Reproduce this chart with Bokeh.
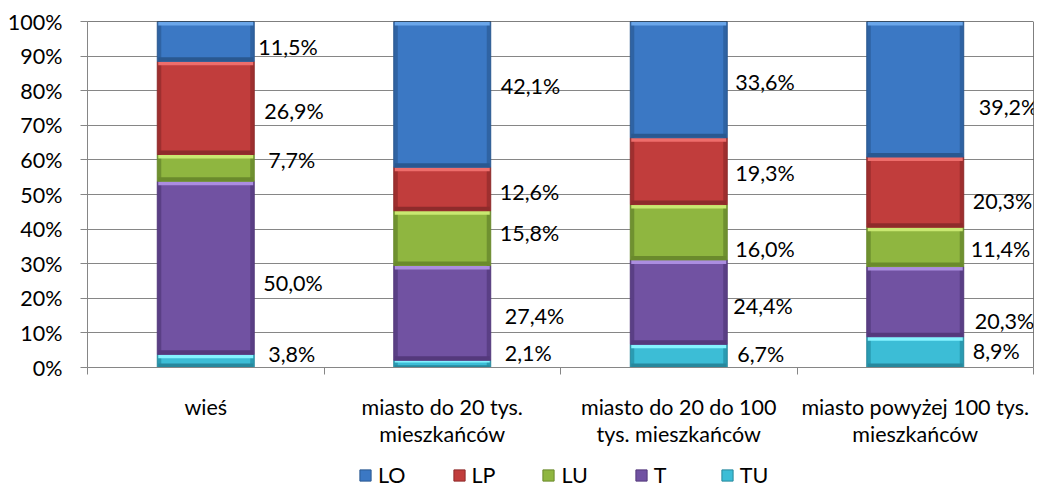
from bokeh.plotting import figure
from bokeh.layouts import column
from bokeh.models import ColumnDataSource, FixedTicker, Span, Legend, LegendItem
from bokeh.core.properties import value
from bokeh.embed import file_html
from bokeh.resources import INLINE

# ---- data ----
categories = ["wieś", "miasto do 20 tys.\nmieszkańców",
              "miasto do 20 do 100\ntys. mieszkańców",
              "miasto powyżej 100 tys.\nmieszkańców"]
series_names = ["TU", "T", "LU", "LP", "LO"]          # bottom -> top
TU = [3.8, 2.1, 6.7, 8.9]
T = [50.0, 27.4, 24.4, 20.3]
LU = [7.7, 15.8, 16.0, 11.4]
LP = [26.9, 12.6, 19.3, 20.3]
LO = [11.5, 42.1, 33.6, 39.2]
y_ticks = [0, 10, 20, 30, 40, 50, 60, 70, 80, 90, 100]
legend_order = ["LO", "LP", "LU", "T", "TU"]

# label nudges (pixels), per series per category
label_dx = {"TU": [14, 14, 10, 9], "T": [9, 14, 6, 11], "LU": [14, 9, 8, 7],
            "LP": [10, 9, 8, 9], "LO": [4, 10, 8, 15]}
label_dy = {"TU": [-7, -11, -2, -1], "T": [15, 3, 4, 19], "LU": [-8, -5, 17, 2],
            "LP": [3, 3.5, 1.5, 9], "LO": [6, -8, 2, 18]}

# ---- styles ----
FONT = "Lato"
FS = "21.5px"
colors = {  # side/edge, main, top highlight, bottom shade
    "LO": ("#2f63a3", "#3b78c4", "#6aa6ea", "#2a5890"),
    "LP": ("#9e2f2f", "#c13d3c", "#ee6d6b", "#8e2b2b"),
    "LU": ("#6f9130", "#8fb640", "#c9e871", "#6a8a2c"),
    "T": ("#5a3f85", "#7152a2", "#ab8de0", "#54397c"),
    "TU": ("#2a9bb2", "#3cbdd6", "#85f3ff", "#27889d"),
}
bar_w = 0.41
px = 100.0 / 346.0  # data units per pixel on y

data = {"TU": TU, "T": T, "LU": LU, "LP": LP, "LO": LO}
n = len(categories)
totals = [sum(data[s][i] for s in series_names) for i in range(n)]
xs = [i + 0.5 for i in range(n)]

p = figure(frame_width=946, frame_height=346, x_range=(0, 4), y_range=(0, 100),
           output_backend="svg", toolbar_location=None,
           min_border_left=87, min_border_right=4, min_border_top=21,
           min_border_bottom=95)
p.outline_line_color = None
p.background_fill_color = "white"
p.border_fill_color = "white"

# axes
ya = p.yaxis[0]
ya.ticker = FixedTicker(ticks=y_ticks, minor_ticks=[])
ya.major_label_overrides = {t: f"{t}%" for t in y_ticks}
ya.axis_line_color = "#868686"
ya.major_tick_line_color = "#868686"
ya.major_tick_in = 0
ya.major_tick_out = 7
ya.minor_tick_line_color = None
ya.major_label_standoff = 18
ya.major_label_text_font = FONT
ya.major_label_text_font_size = FS
ya.major_label_text_color = "#000000"

xa = p.xaxis[0]
xa.ticker = FixedTicker(ticks=xs, minor_ticks=[0, 1, 2, 3, 4])
xa.major_label_overrides = {x: c for x, c in zip(xs, categories)}
xa.axis_line_color = "#868686"
xa.major_tick_line_color = None
xa.major_tick_in = 0
xa.major_tick_out = 0
xa.minor_tick_line_color = "#868686"
xa.minor_tick_in = 0
xa.minor_tick_out = 7
xa.major_label_standoff = 19
xa.major_label_text_font = FONT
xa.major_label_text_font_size = FS
xa.major_label_text_color = "#000000"
xa.major_label_text_line_height = 1.05

p.xgrid.grid_line_color = None
p.ygrid.ticker = FixedTicker(ticks=y_ticks, minor_ticks=[])
p.ygrid.grid_line_color = "#868686"
p.ygrid.grid_line_width = 1

# bars
cum = [0.0] * n
lab_x, lab_y, lab_t, lab_dx, lab_dy = [], [], [], [], []
for s in series_names:
    vals = [data[s][i] * 100.0 / totals[i] for i in range(n)]
    bottoms = cum[:]
    tops = [b + v for b, v in zip(bottoms, vals)]
    cum = tops[:]
    side, main, hi, lo = colors[s]
    src = ColumnDataSource(dict(x=xs, bottom=bottoms, top=tops))
    p.vbar(x="x", bottom="bottom", top="top", width=bar_w, source=src,
           fill_color=side, line_color=lo, line_width=1)
    p.vbar(x="x", bottom="bottom", top="top", width=bar_w - 8 / 236.5,
           source=src, fill_color=main, line_color=None)
    hh = [min(4 * px, v * 0.3) for v in vals]
    src_hi = ColumnDataSource(dict(x=xs, bottom=[t - h for t, h in zip(tops, hh)], top=tops))
    p.vbar(x="x", bottom="bottom", top="top", width=bar_w - 2 / 236.5, source=src_hi,
           fill_color=hi, line_color=None)
    src_lo = ColumnDataSource(dict(x=xs, bottom=bottoms, top=[b + h for b, h in zip(bottoms, hh)]))
    p.vbar(x="x", bottom="bottom", top="top", width=bar_w - 2 / 236.5, source=src_lo,
           fill_color=lo, line_color=None)
    for i in range(n):
        lab_x.append(xs[i] + bar_w / 2)
        lab_y.append((bottoms[i] + tops[i]) / 2)
        lab_t.append(f"{data[s][i]:.1f}%".replace(".", ","))
        lab_dx.append(label_dx[s][i])
        lab_dy.append(label_dy[s][i])

lsrc = ColumnDataSource(dict(x=lab_x, y=lab_y, text=lab_t, dx=lab_dx, dy=lab_dy))
p.text(x="x", y="y", text="text", x_offset="dx", y_offset="dy", source=lsrc,
       text_font=value(FONT), text_font_size=FS, text_color="#000000",
       text_align="left", text_baseline="middle")

# plot area border (top and right)
p.add_layout(Span(location=100, dimension="width", line_color="#000000", line_width=1))
p.add_layout(Span(location=4, dimension="height", line_color="#000000", line_width=1))

# ---- legend strip (separate small figure below) ----
lf = figure(width=1037, height=26, x_range=(0, 4), y_range=(0, 100),
            output_backend="svg", toolbar_location=None,
            x_axis_type=None, y_axis_type=None,
            min_border_left=0, min_border_right=0, min_border_top=0, min_border_bottom=0)
lf.outline_line_color = None
lf.xgrid.grid_line_color = None
lf.ygrid.grid_line_color = None
lf.background_fill_color = "white"
lf.border_fill_color = "white"
items = []
for s in legend_order:
    side, main, hi, lo = colors[s]
    # proxy renderer (hidden) carrying the series' first value, only for the legend swatch
    r = lf.vbar(x=xs[:1], top=data[s][:1], width=bar_w, fill_color=main,
                line_color=lo, line_width=1, visible=False)
    items.append(LegendItem(label=s, renderers=[r]))
legend = Legend(items=items, orientation="horizontal", location=(271, 0),
                glyph_width=14, glyph_height=14, label_height=14,
                label_standoff=6, spacing=46, padding=0, margin=0,
                border_line_color=None, background_fill_alpha=0,
                inactive_fill_alpha=0,
                label_text_font=FONT, label_text_font_size=FS,
                label_text_color="#000000", label_text_baseline="middle")
lf.add_layout(legend, "center")

open("out.html", "w").write(file_html(column(p, lf, spacing=0), INLINE))
